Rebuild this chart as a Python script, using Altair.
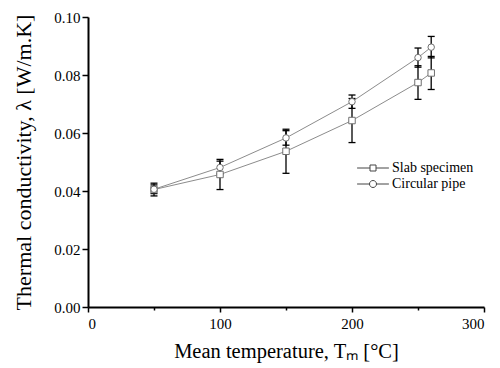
import altair as alt
import pandas as pd

# ---- data ----
temps = [50, 100, 150, 200, 250, 260]
slab = [0.0405, 0.0457, 0.0537, 0.0643, 0.0774, 0.0807]
slab_err = [0.0022, 0.0052, 0.0076, 0.0076, 0.0058, 0.0057]
pipe = [0.0406, 0.0481, 0.0583, 0.0708, 0.0860, 0.0896]
pipe_err = [0.0015, 0.0022, 0.0025, 0.0023, 0.0033, 0.0037]
series_names = ["Slab specimen", "Circular pipe"]
x_ticks = [0, 50, 100, 150, 200, 250, 300]
y_ticks = [0.0, 0.01, 0.02, 0.03, 0.04, 0.05, 0.06, 0.07, 0.08, 0.09, 0.10]

rows = []
for name, vals, errs in [(series_names[0], slab, slab_err), (series_names[1], pipe, pipe_err)]:
    for t, v, e in zip(temps, vals, errs):
        rows.append({"T": t, "k": v, "lo": v - e, "hi": v + e, "series": name})
df = pd.DataFrame(rows)

FONT = "Liberation Serif"
LINE_C = "#8c8c8c"
MARK_C = "#707070"

xscale = alt.Scale(domain=[0, 300], nice=False)
yscale = alt.Scale(domain=[0, 0.10], nice=False)

x_axis = alt.Axis(
    values=x_ticks,
    labelExpr="datum.value % 100 == 0 ? datum.label : ''",
    tickSize={"condition": {"test": "datum.value % 100 == 0", "value": 5}, "value": 3},
    title="Mean temperature, Tₘ [°C]",
    titleFontSize=20.5,
    grid=False,
    labelPadding=4,
    titlePadding=10,
)
y_axis = alt.Axis(
    values=y_ticks,
    format=".2f",
    labelExpr="round(datum.value * 100) % 2 == 0 ? datum.label : ''",
    tickSize={"condition": {"test": "round(datum.value * 100) % 2 == 0", "value": 6}, "value": 3},
    title="Thermal conductivity, λ [W/m.K]",
    titleFontSize=22,
    grid=False,
    labelPadding=2,
    titlePadding=18,
)

base = alt.Chart(df)

lines = base.mark_line(color=LINE_C, strokeWidth=1).encode(
    x=alt.X("T:Q", scale=xscale, axis=x_axis),
    y=alt.Y("k:Q", scale=yscale, axis=y_axis),
    detail="series:N",
)

err_rules = base.mark_rule(color="black", strokeWidth=1.3).encode(
    x=alt.X("T:Q"),
    y=alt.Y("lo:Q"),
    y2="hi:Q",
)

caps = base.transform_fold(["lo", "hi"], as_=["end", "val"]).mark_tick(
    orient="horizontal", size=7, thickness=1.3, color="black", opacity=1
).encode(
    x=alt.X("T:Q"),
    y=alt.Y("val:Q"),
)

points = base.mark_point(
    filled=True, fill="white", stroke=MARK_C, strokeWidth=1, opacity=1, size=42
).encode(
    x=alt.X("T:Q"),
    y=alt.Y("k:Q"),
    shape=alt.Shape(
        "series:N",
        scale=alt.Scale(domain=series_names, range=["square", "circle"]),
        legend=None,
    ),
)

sq_path = "M-5.3,0H-1M-1,-1H1V1H-1ZM1,0H5.3"
ci_path = "M-5.3,0H-1.17A1.17,1.17 0 1,1 1.17,0A1.17,1.17 0 1,1 -1.17,0M1.17,0H5.3"

legend_layer = base.transform_filter("false").mark_point(
    filled=False, stroke="#444444", strokeWidth=1, opacity=1
).encode(
    x=alt.X("T:Q"),
    y=alt.Y("k:Q"),
    shape=alt.Shape(
        "series:N",
        scale=alt.Scale(domain=series_names, range=[sq_path, ci_path]),
        legend=alt.Legend(
            title=None,
            orient="none",
            legendX=278,
            legendY=144,
            padding=0,
            symbolSize=36,
            symbolStrokeColor="#444444",
            symbolStrokeWidth=1,
            symbolOpacity=1,
            labelFont=FONT,
            labelFontSize=14,
            labelColor="black",
            labelOffset=12,
            rowPadding=2,
        ),
    ),
)

chart = (
    alt.layer(lines, err_rules, caps, points, legend_layer)
    .resolve_scale(shape="independent")
    .resolve_legend(shape="independent")
    .properties(
        width=396,
        height=290,
        autosize=alt.AutoSizeParams(type="none"),
        padding={"left": 88, "top": 17, "right": 16, "bottom": 61},
        background="white",
    )
    .configure(font=FONT)
    .configure_view(stroke=None)
    .configure_axis(
        domainColor="black",
        domainWidth=2,
        tickColor="black",
        tickWidth=1.5,
        labelFont=FONT,
        labelFontSize=15,
        labelColor="black",
        titleFont=FONT,
        titleFontWeight="normal",
        titleColor="black",
    )
    .configure_legend(labelFont=FONT)
)

chart.save("out.html", embed_options={"renderer": "svg", "actions": False})
